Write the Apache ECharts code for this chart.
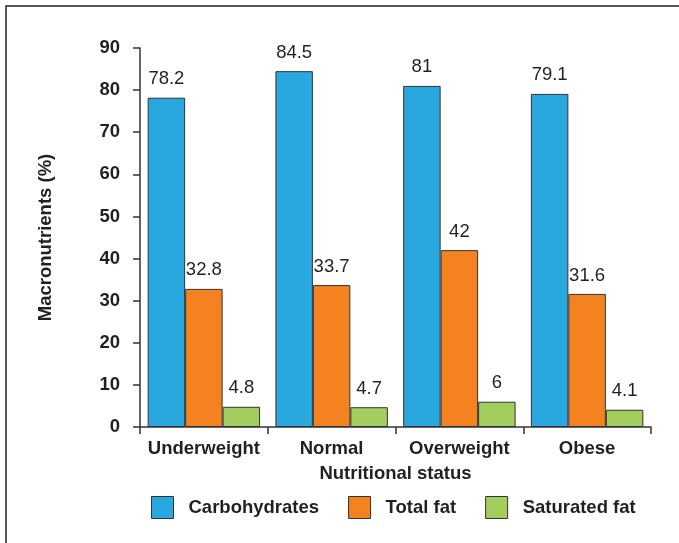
<!DOCTYPE html>
<html>
<head>
<meta charset="utf-8">
<script src="https://cdn.jsdelivr.net/npm/echarts@6/dist/echarts.min.js"></script>
<style>
  html, body { margin: 0; padding: 0; background: #fff; }
  #chart { width: 679px; height: 543px; }
</style>
</head>
<body>
<div id="chart"></div>
<script>
// Nutritional status groups and macronutrient shares (%)
const categories = ['Underweight', 'Normal', 'Overweight', 'Obese'];
const carbohydrates = [78.2, 84.5, 81, 79.1];
const totalFat = [32.8, 33.7, 42, 31.6];
const saturatedFat = [4.8, 4.7, 6, 4.1];
const yTicks = { min: 0, max: 90, interval: 10 };

const FONT = "'Liberation Sans', Arial, Helvetica, sans-serif";
const INK = '#231f20';

const chart = echarts.init(document.getElementById('chart'), null, { renderer: 'canvas' });

function barSeries(name, data, color) {
  return {
    name: name,
    type: 'bar',
    data: data,
    barGap: '0%',
    barCategoryGap: '12%',
    itemStyle: { color: color, borderColor: '#333', borderWidth: 1 },
    label: {
      show: true,
      position: 'top',
      distance: 9,
      color: INK,
      fontFamily: FONT,
      fontSize: 18.5
    }
  };
}

chart.setOption({
  animation: false,
  backgroundColor: '#fff',
  graphic: [{
    type: 'rect',
    shape: { x: 6, y: 6, width: 720, height: 600 },
    style: { fill: 'none', stroke: '#222', lineWidth: 1.5 },
    silent: true
  }],
  grid: { left: 140, right: 28, top: 48, bottom: 116 },
  legend: {
    left: 146,
    top: 491,
    itemWidth: 22,
    itemHeight: 22,
    itemGap: 29,
    icon: 'rect',
    itemStyle: { borderColor: '#333', borderWidth: 1 },
    textStyle: {
      color: INK, fontFamily: FONT, fontSize: 18.5, fontWeight: 'bold',
      padding: [0, 0, 0, 10]
    },
    data: ['Carbohydrates', 'Total fat', 'Saturated fat']
  },
  xAxis: {
    type: 'category',
    data: categories,
    name: 'Nutritional status',
    nameLocation: 'middle',
    nameGap: 37,
    nameTextStyle: { color: INK, fontFamily: FONT, fontSize: 18.5, fontWeight: 'bold' },
    axisLine: { lineStyle: { color: '#333', width: 1.5 } },
    axisTick: { show: true, alignWithLabel: false, interval: 0, length: 7, lineStyle: { color: '#333', width: 1.5 } },
    axisLabel: { interval: 0, color: INK, fontFamily: FONT, fontSize: 18.5, fontWeight: 'bold', margin: 12 },
    splitLine: { show: false }
  },
  yAxis: {
    type: 'value',
    min: yTicks.min,
    max: yTicks.max,
    interval: yTicks.interval,
    name: 'Macronutrients (%)',
    nameLocation: 'middle',
    nameGap: 85,
    nameTextStyle: { color: INK, fontFamily: FONT, fontSize: 18.5, fontWeight: 'bold' },
    axisLine: { show: true, lineStyle: { color: '#333', width: 1.5 } },
    axisTick: { show: true, length: 7, lineStyle: { color: '#333', width: 1.5 } },
    axisLabel: { color: INK, fontFamily: FONT, fontSize: 18.5, fontWeight: 'bold', margin: 20 },
    splitLine: { show: false }
  },
  series: [
    barSeries('Carbohydrates', carbohydrates, '#29a8e0'),
    barSeries('Total fat', totalFat, '#f58220'),
    barSeries('Saturated fat', saturatedFat, '#a3cd5c')
  ]
});
</script>
</body>
</html>
